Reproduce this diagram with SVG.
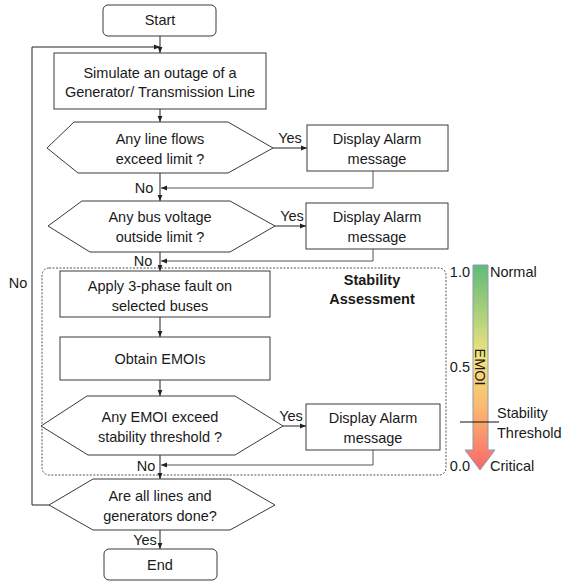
<svg xmlns="http://www.w3.org/2000/svg" width="565" height="583" viewBox="0 0 565 583">
<style>
text{font-family:"Liberation Sans",Arial,sans-serif;font-size:14.5px;fill:#1a1a1a;text-anchor:middle}
.n{fill:#fff;stroke:#3a3a3a;stroke-width:1}
.c{fill:none;stroke:#222;stroke-width:1}
.r{fill:none;stroke:#555;stroke-width:1}
.l{text-anchor:start}
.e{text-anchor:end}
.b{font-weight:bold}
</style>
<defs>
<marker id="a" viewBox="0 0 10 10" refX="10" refY="5" markerWidth="6" markerHeight="6" orient="auto" markerUnits="userSpaceOnUse"><path d="M0,1 L10,5 L0,9 z" fill="#222"/></marker>
<linearGradient id="g" x1="0" y1="0" x2="0" y2="1">
<stop offset="0" stop-color="#5fbb78"/>
<stop offset="0.45" stop-color="#f3e47f"/>
<stop offset="0.7" stop-color="#fbb86e"/>
<stop offset="1" stop-color="#f8666a"/>
</linearGradient>
</defs>
<g id="stability-region">
<rect x="42" y="268" width="404" height="207" rx="7" fill="none" stroke="#555" stroke-width="1" stroke-dasharray="2,1.5"/>
<text class="b" x="372" y="285">Stability</text>
<text class="b" x="372" y="304">Assessment</text>
</g>
<g id="connectors">
<line class="c" x1="160" y1="36" x2="160" y2="53" marker-end="url(#a)"/>
<polyline class="c" points="49,505 32,505 32,47 160,47" marker-end="url(#a)"/>
<line class="c" x1="160" y1="109" x2="160" y2="122" marker-end="url(#a)"/>
<line class="c" x1="273" y1="148" x2="307" y2="148" marker-end="url(#a)"/>
<polyline class="r" points="373,171 373,188 161,188" marker-end="url(#a)"/>
<line class="c" x1="160" y1="173" x2="160" y2="201" marker-end="url(#a)"/>
<line class="c" x1="275" y1="226" x2="306" y2="226" marker-end="url(#a)"/>
<polyline class="r" points="373,249 373,261 161,261" marker-end="url(#a)"/>
<line class="c" x1="160" y1="252" x2="160" y2="271" marker-end="url(#a)"/>
<line class="c" x1="160" y1="317" x2="160" y2="337" marker-end="url(#a)"/>
<line class="c" x1="160" y1="380" x2="160" y2="396" marker-end="url(#a)"/>
<line class="c" x1="283" y1="426" x2="306" y2="426" marker-end="url(#a)"/>
<polyline class="r" points="373,450 373,465 161,465" marker-end="url(#a)"/>
<line class="c" x1="160" y1="455" x2="160" y2="479" marker-end="url(#a)"/>
<line class="c" x1="160" y1="530" x2="160" y2="549" marker-end="url(#a)"/>
<text x="290" y="143">Yes</text>
<text x="144" y="193">No</text>
<text x="292" y="221">Yes</text>
<text x="143" y="266">No</text>
<text x="291" y="421">Yes</text>
<text x="146" y="471">No</text>
<text x="18" y="288">No</text>
<text x="145" y="545">Yes</text>
</g>
<g id="start">
<rect class="n" x="103" y="5" width="113" height="31" rx="5"/>
<text x="160" y="25">Start</text>
</g>
<g id="simulate">
<rect class="n" x="54" y="53" width="212" height="56"/>
<text x="160" y="78">Simulate an outage of a</text>
<text x="160" y="97">Generator/ Transmission Line</text>
</g>
<g id="line-flows">
<polygon class="n" points="47,148 74,122 228,122 273,148 228,173 78,173"/>
<text x="160" y="144">Any line flows</text>
<text x="160" y="164">exceed limit ?</text>
</g>
<g id="alarm1">
<rect class="n" x="307" y="125" width="141" height="46"/>
<text x="377" y="144">Display Alarm</text>
<text x="377" y="164">message</text>
</g>
<g id="bus-voltage">
<polygon class="n" points="48,226 82,201 230,201 275,226 230,252 90,252"/>
<text x="160" y="222">Any bus voltage</text>
<text x="160" y="242">outside limit ?</text>
</g>
<g id="alarm2">
<rect class="n" x="306" y="203" width="142" height="46"/>
<text x="377" y="222">Display Alarm</text>
<text x="377" y="242">message</text>
</g>
<g id="apply-fault">
<rect class="n" x="60" y="271" width="210" height="46"/>
<text x="160" y="291">Apply 3-phase fault on</text>
<text x="160" y="311">selected buses</text>
</g>
<g id="obtain-emoi">
<rect class="n" x="60" y="337" width="210" height="43"/>
<text x="160" y="364">Obtain EMOIs</text>
</g>
<g id="emoi-exceed">
<polygon class="n" points="41,426 87,396 235,396 283,426 235,455 88,455"/>
<text x="160" y="422">Any EMOI exceed</text>
<text x="160" y="442">stability threshold ?</text>
</g>
<g id="alarm3">
<rect class="n" x="306" y="404" width="134" height="46"/>
<text x="373" y="423">Display Alarm</text>
<text x="373" y="443">message</text>
</g>
<g id="all-done">
<polygon class="n" points="49,505 93,479 230,479 275,505 230,530 93,530"/>
<text x="160" y="501">Are all lines and</text>
<text x="160" y="521">generators done?</text>
</g>
<g id="end">
<rect class="n" x="104" y="549" width="113" height="31" rx="5"/>
<text x="160" y="570">End</text>
</g>
<g id="emoi-scale">
<polygon points="473,265 488,265 488,450 495,450 480,470 465,450 473,450" fill="url(#g)" stroke="#8a9ab0" stroke-width="1"/>
<text x="480" y="367" transform="rotate(90 480 367)" dy="5">EMOI</text>
<line x1="460" y1="422" x2="499" y2="422" stroke="#111" stroke-width="1"/>
<text class="e" x="470" y="277">1.0</text>
<text class="e" x="470" y="372">0.5</text>
<text class="e" x="470" y="471">0.0</text>
<text class="l" x="490" y="277">Normal</text>
<text class="l" x="497" y="418">Stability</text>
<text class="l" x="497" y="438">Threshold</text>
<text class="l" x="490" y="471">Critical</text>
</g>
</svg>
